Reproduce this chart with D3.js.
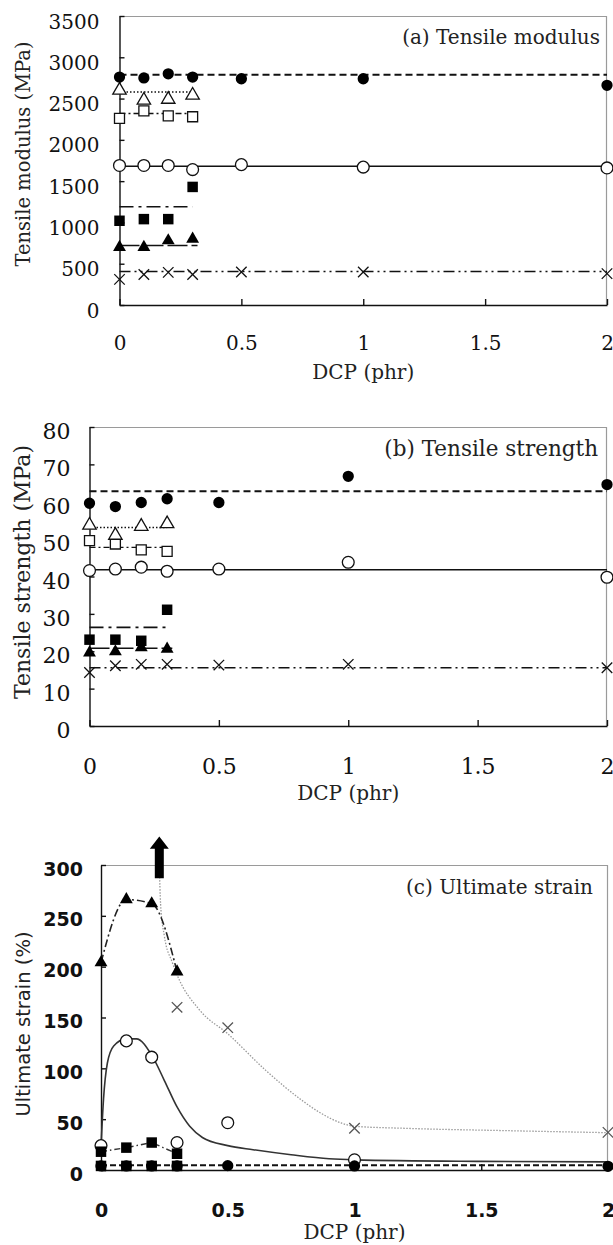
<!DOCTYPE html>
<html>
<head>
<meta charset="utf-8">
<script src="https://cdn.jsdelivr.net/npm/d3@7"></script>
<style>
  body { margin: 0; background: #fff; }
  svg { display: block; }
</style>
</head>
<body>
<script>
// DCP content (phr), shared x values
var dcp = [0, 0.1, 0.2, 0.3, 0.5, 1, 2];
var dcpShort = [0, 0.1, 0.2, 0.3];
var xTicks = [0, 0.5, 1, 1.5, 2];

// (a) tensile modulus (MPa)
var modTicks = [0, 500, 1000, 1500, 2000, 2500, 3000, 3500];
var modFilledCircle = [2760, 2750, 2800, 2760, 2740, 2740, 2660];
var modOpenTri = [2600, 2480, 2490, 2540];
var modOpenSq = [2260, 2350, 2290, 2280];
var modOpenCircle = [1690, 1690, 1690, 1640, 1700, 1670, 1660];
var modFilledSq = [1020, 1040, 1040, 1430];
var modFilledTri = [700, 700, 780, 800];
var modCross = [310, 370, 395, 370, 400, 400, 380];
// average levels: filled circle, open tri, open sq, open circle, filled sq, filled tri, cross
var modLevels = [2790, 2580, 2320, 1680, 1190, 720, 405];

// (b) tensile strength (MPa)
var strTicks = [0, 10, 20, 30, 40, 50, 60, 70, 80];
var strFilledCircle = [59.6, 58.7, 59.8, 60.8, 59.8, 66.8, 64.6];
var strOpenTri = [53.7, 51.0, 53.4, 54.1];
var strOpenSq = [49.6, 48.7, 47.1, 46.7];
var strOpenCircle = [41.6, 42.0, 42.5, 41.4, 42.0, 43.8, 39.8];
var strFilledSq = [23.1, 23.1, 22.8, 31.1];
var strFilledTri = [19.6, 19.9, 21.0, 20.6];
var strCross = [14.3, 16.1, 16.5, 16.5, 16.3, 16.5, 15.6];
var strLevels = [62.8, 53.1, 47.8, 41.8, 26.4, 20.8, 15.6];

// (c) ultimate strain (%)
var strainTicks = [0, 50, 100, 150, 200, 250, 300];
var strainFilledCircle = [4, 4, 4, 4, 4.3, 4, 3.6];
var strainLowSq = [4, 4, 4, 4];
var strainFilledSq = [18, 22, 27, 16];
var strainOpenCircle = [24, 127, 111, 27, 46.5, 10];
var strainFilledTri = [204, 266, 262, 195];
var strainCrossDcp = [0.3, 0.5, 1, 2];
var strainCross = [160, 140, 41, 37];
var strainCircleLevel = 4.6;
// hand-drawn trend curves
var circleFitDcp = [0, 0.01, 0.025, 0.05, 0.1, 0.14, 0.2, 0.25, 0.3, 0.35, 0.4, 0.5, 0.6, 0.75, 0.9, 1, 1.5, 2];
var circleFit = [23, 70, 105, 122, 129, 129, 113, 88, 62, 43, 32, 24, 20, 15, 11, 10, 8.5, 8];
var crossFitDcp = [0.23, 0.235, 0.25, 0.28, 0.3, 0.39, 0.5, 0.65, 0.79, 0.86, 0.95, 1, 1.2, 1.6, 2];
var crossFit = [300, 262, 230, 205, 192, 157, 134, 98, 69, 57, 46, 43, 41, 38.7, 36.7];
// off-scale arrow for the cross series at low DCP
var arrowDcp = 0.23;
var arrowFrom = 287, arrowBase = 316, arrowTip = 328;

var svg = d3.select("body")
            .append("svg")
            .attr("width", 613)
            .attr("height", 1245);

var serif = "'DejaVu Serif', serif";
var sans = "'DejaVu Sans', sans-serif";

var crossSym = {
    draw: function(ctx, size) {
        var r = Math.sqrt(size) / 2;
        ctx.moveTo(-r, -r); ctx.lineTo(r, r);
        ctx.moveTo(r, -r); ctx.lineTo(-r, r);
    }
};

var marks = {
    dot:    { type: d3.symbolCircle,   size: 100, fill: "#000", stroke: "none" },
    ring:   { type: d3.symbolCircle,   size: 110, fill: "#fff", stroke: "#111" },
    tri:    { type: d3.symbolTriangle, size: 72,  fill: "#000", stroke: "none" },
    triO:   { type: d3.symbolTriangle, size: 78,  fill: "#fff", stroke: "#111" },
    sq:     { type: d3.symbolSquare,   size: 110, fill: "#000", stroke: "none" },
    sqO:    { type: d3.symbolSquare,   size: 100, fill: "#fff", stroke: "#111" },
    cross:  { type: crossSym,          size: 110, fill: "none", stroke: "#111" }
};

function panel(cfg) {
    var g = svg.append("g").attr("transform", "translate(" + cfg.left + "," + cfg.top + ")");
    var w = cfg.right - cfg.left, h = cfg.bottom - cfg.top;
    var x = d3.scaleLinear().domain([0, 2]).range([0, w]);
    var y = d3.scaleLinear().domain([0, cfg.ticks[cfg.ticks.length - 1]]).range([h, 0]);

    // grey frame on top and right
    g.append("path")
        .attr("d", "M0,0.5H" + (w - 0.5) + "V" + h)
        .attr("fill", "none")
        .attr("stroke", "#9a9a9a")
        .attr("stroke-width", 1.2);

    var yAxis = g.append("g")
        .call(d3.axisLeft(y).tickValues(cfg.ticks).tickSize(-5).tickSizeOuter(0)
            .tickPadding(cfg.yPad).tickFormat(d3.format("d")));
    var xAxis = g.append("g")
        .attr("transform", "translate(0," + h + ")")
        .call(d3.axisBottom(x).tickValues(xTicks).tickSize(-6).tickSizeOuter(0)
            .tickFormat(function(d) { return d; }));

    [yAxis, xAxis].forEach(function(a) {
        a.selectAll(".domain, .tick line").attr("stroke", "#111").attr("stroke-width", 1.4);
        a.selectAll("text")
            .attr("fill", "#111")
            .attr("font-family", cfg.tickFont)
            .attr("font-size", cfg.tickSize)
            .attr("font-weight", cfg.tickWeight)
            .attr("dy", null)
            .attr("dominant-baseline", "central");
    });
    yAxis.selectAll("text").attr("y", cfg.yShift);
    xAxis.selectAll("text").attr("y", cfg.xLabY);

    // x title
    svg.append("text")
        .attr("x", cfg.left + w / 2)
        .attr("y", cfg.bottom + cfg.xTitleY)
        .attr("text-anchor", "middle")
        .attr("dominant-baseline", "central")
        .attr("font-family", serif)
        .attr("font-size", 20)
        .attr("fill", "#222")
        .text("DCP (phr)");

    // y title
    svg.append("text")
        .attr("transform", "translate(" + cfg.yTitle[0] + "," + cfg.yTitle[1] + ") rotate(-90)")
        .attr("text-anchor", "middle")
        .attr("dominant-baseline", "central")
        .attr("font-family", cfg.yTitleFont)
        .attr("font-size", cfg.yTitleSize)
        .attr("fill", "#222")
        .text(cfg.yLabel);

    // panel caption
    g.append("text")
        .attr("x", cfg.capX - cfg.left)
        .attr("y", cfg.capY - cfg.top)
        .attr("text-anchor", "end")
        .attr("dominant-baseline", "central")
        .attr("font-family", serif)
        .attr("font-size", cfg.capSize)
        .attr("fill", "#222")
        .text(cfg.caption);

    return { g: g, x: x, y: y };
}

function level(p, value, end, dash, width) {
    p.g.append("line")
        .attr("x1", p.x(0)).attr("x2", p.x(end))
        .attr("y1", p.y(value)).attr("y2", p.y(value))
        .attr("stroke", "#111")
        .attr("stroke-width", width)
        .attr("stroke-dasharray", dash);
}

function points(p, xs, vals, m, color) {
    var s = marks[m];
    p.g.selectAll(null)
        .data(d3.zip(xs, vals))
        .enter()
        .append("path")
        .attr("transform", function(d) { return "translate(" + p.x(d[0]) + "," + p.y(d[1]) + ")"; })
        .attr("d", d3.symbol().type(s.type).size(s.size))
        .attr("fill", s.fill)
        .attr("stroke", color || s.stroke)
        .attr("stroke-width", 1.3);
}

function curve(p, xs, vals, stroke, dash, width, kind) {
    p.g.append("path")
        .datum(d3.zip(xs, vals))
        .attr("d", d3.line()
            .x(function(d) { return p.x(d[0]); })
            .y(function(d) { return p.y(d[1]); })
            .curve(kind || d3.curveMonotoneX))
        .attr("fill", "none")
        .attr("stroke", stroke)
        .attr("stroke-width", width)
        .attr("stroke-dasharray", dash);
}

var dashes = ["7,4", "1.5,2", "6,3,2,3", null, "14,5,3,5", "20,4", "11,4,2,4,2,4"];
var ends = [2, 0.3, 0.3, 2, 0.3, 0.32, 2];
var widths = [2, 1.4, 1.4, 1.4, 1.6, 1.6, 1.6];

//(a) Tensile modulus
var pa = panel({
    left: 119.5, top: 16, right: 607, bottom: 305,
    ticks: modTicks, yPad: 20, yShift: 5, xLabY: 38, xTitleY: 67,
    tickFont: serif, tickSize: 20, tickWeight: "normal",
    yTitle: [23, 154], yLabel: "Tensile modulus (MPa)", yTitleFont: serif, yTitleSize: 19.5,
    caption: "(a) Tensile modulus", capX: 600, capY: 37, capSize: 20
});
modLevels.forEach(function(v, i) { level(pa, v, ends[i], dashes[i], widths[i]); });
points(pa, dcp, modCross, "cross");
points(pa, dcpShort, modFilledTri, "tri");
points(pa, dcpShort, modFilledSq, "sq");
points(pa, dcp, modOpenCircle, "ring");
points(pa, dcpShort, modOpenSq, "sqO");
points(pa, dcpShort, modOpenTri, "triO");
points(pa, dcp, modFilledCircle, "dot");

//(b) Tensile strength
var pb = panel({
    left: 89.5, top: 427, right: 607, bottom: 726,
    ticks: strTicks, yPad: 19, yShift: 4, xLabY: 40, xTitleY: 67,
    tickFont: serif, tickSize: 22, tickWeight: "normal",
    yTitle: [22, 572], yLabel: "Tensile strength (MPa)", yTitleFont: serif, yTitleSize: 22,
    caption: "(b) Tensile strength", capX: 598, capY: 448, capSize: 21.5
});
strLevels.forEach(function(v, i) { level(pb, v, ends[i], dashes[i], widths[i]); });
points(pb, dcp, strCross, "cross");
points(pb, dcpShort, strFilledTri, "tri");
points(pb, dcpShort, strFilledSq, "sq");
points(pb, dcp, strOpenCircle, "ring");
points(pb, dcpShort, strOpenSq, "sqO");
points(pb, dcpShort, strOpenTri, "triO");
points(pb, dcp, strFilledCircle, "dot");

//(c) Ultimate strain
var pc = panel({
    left: 101, top: 865, right: 608, bottom: 1170,
    ticks: strainTicks, yPad: 18, yShift: 3, xLabY: 40, xTitleY: 62,
    tickFont: sans, tickSize: 19, tickWeight: "bold",
    yTitle: [23, 1024], yLabel: "Ultimate strain (%)", yTitleFont: sans, yTitleSize: 19.5,
    caption: "(c) Ultimate strain", capX: 593, capY: 887, capSize: 20
});
level(pc, strainCircleLevel, 2, "6,3", 2);
curve(pc, crossFitDcp, crossFit, "#9a9a9a", "1.5,1.5", 1.3);
curve(pc, circleFitDcp, circleFit, "#333", null, 1.6);
curve(pc, dcpShort, strainFilledTri, "#222", "8,3,2,3", 1.6);
curve(pc, dcpShort, strainFilledSq, "#333", "6,3,1.5,3", 1.4, d3.curveLinear);

// arrow: cross series beyond 300 % at low DCP
var ax = pc.x(arrowDcp);
pc.g.append("path")
    .attr("d", "M" + (ax - 4.5) + "," + pc.y(arrowFrom) + "V" + pc.y(arrowBase) +
               "H" + (ax - 9.5) + "L" + ax + "," + pc.y(arrowTip) +
               "L" + (ax + 9.5) + "," + pc.y(arrowBase) + "H" + (ax + 4.5) +
               "V" + pc.y(arrowFrom) + "Z")
    .attr("fill", "#000");

points(pc, strainCrossDcp, strainCross, "cross", "#555");
points(pc, dcp.slice(0, 6), strainOpenCircle, "ring");
points(pc, dcp, strainFilledCircle, "dot");
points(pc, dcpShort, strainFilledSq, "sq");
points(pc, dcpShort, strainLowSq, "sq");
points(pc, dcpShort, strainFilledTri, "tri");
</script>
</body>
</html>
